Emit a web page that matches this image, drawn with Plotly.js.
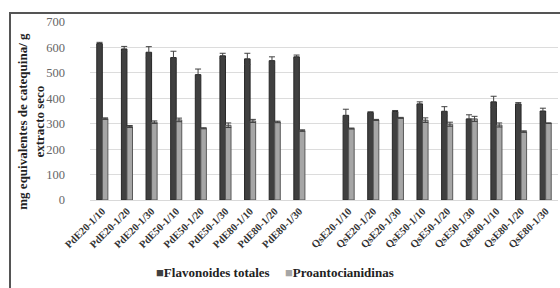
<!DOCTYPE html>
<html><head><meta charset="utf-8">
<script src="https://cdn.plot.ly/plotly-3.0.1.min.js"></script>
<style>
html,body{margin:0;padding:0;background:#fff;overflow:hidden;}
#wrap{position:relative;width:560px;height:288px;overflow:hidden;}
#c{width:560px;height:288px;}
#frame{position:absolute;left:9px;top:12px;width:600px;height:400px;border:2px solid #555;pointer-events:none;box-sizing:border-box;}
</style>
</head><body><div id="wrap"><div id="c"></div><div id="frame"></div></div>
<script>
var categories = ["PdE20-1/10","PdE20-1/20","PdE20-1/30","PdE50-1/10","PdE50-1/20","PdE50-1/30","PdE80-1/10","PdE80-1/20","PdE80-1/30"," ",
  "QsE20-1/10","QsE20-1/20","QsE20-1/30","QsE50-1/10","QsE50-1/20","QsE50-1/30","QsE80-1/10","QsE80-1/20","QsE80-1/30"];
var flavonoides = [615,594,581,560,493,567,555,548,563,null,333,344,348,378,349,319,386,378,350];
var flavErr     = [5,10,22,25,22,10,22,15,7,null,24,3,4,8,18,16,22,5,11];
var proanto     = [320,289,306,315,282,294,311,307,273,null,281,315,323,314,298,319,295,269,302];
var proaErr     = [3,4,5,7,2,9,6,3,3,null,2,2,2,9,8,10,8,3,1];
var seriesNames = ["Flavonoides totales","Proantocianidinas"];
var yTitle = "mg equivalentes de catequina/ g<br>extracto seco";
var yTicks = [0,100,200,300,400,500,600,700];
var fills = ["#404040","#a6a6a6"];
var outlines = ["#262626","#595959"];

var traces = [
  {type:"bar", x:categories, y:flavonoides, name:seriesNames[0], showlegend:false,
   marker:{color:fills[0], line:{color:outlines[0], width:1}},
   error_y:{type:"data", array:flavErr, visible:true, color:"#404040", thickness:1, width:3}},
  {type:"bar", x:categories, y:proanto, name:seriesNames[1], showlegend:false,
   marker:{color:fills[1], line:{color:outlines[1], width:1}},
   error_y:{type:"data", array:proaErr, visible:true, color:"#404040", thickness:1, width:3}}
];
var legFont = {family:"Liberation Serif", size:13, color:"#222", weight:"bold"};
var layout = {
  width:560, height:288,
  margin:{l:90, r:2, t:22, b:88},
  paper_bgcolor:"#fff", plot_bgcolor:"#fff",
  barmode:"group", bargap:0.55, bargroupgap:0,
  showlegend:false,
  xaxis:{type:"category", categoryorder:"array", categoryarray:categories, automargin:false,
    tickangle:-45, tickfont:{family:"Liberation Serif", size:10.5, color:"#333", weight:"bold"},
    showline:true, linecolor:"#d9d9d9", linewidth:1, ticks:"", showgrid:false},
  yaxis:{range:[0,700], tickvals:yTicks, ticktext:yTicks.map(String), automargin:false,
    tickfont:{family:"Liberation Serif", size:12.5, color:"#666"},
    showgrid:true, gridcolor:"#dcdcdc", gridwidth:1, zeroline:false, showline:false, ticks:"",
    ticklabelstandoff:24},
  annotations:[
    {xref:"paper", yref:"paper", x:-0.126, y:0.44, xanchor:"center", yanchor:"middle",
     textangle:-90, showarrow:false, text:yTitle,
     font:{family:"Liberation Serif", size:13, color:"#222", weight:"bold"}},
    {xref:"paper", yref:"paper", x:(154-90)/468, y:-0.41, xanchor:"left", yanchor:"middle",
     showarrow:false, font:legFont,
     text:"<span style='color:"+fills[0]+"'>■</span>"+seriesNames[0]},
    {xref:"paper", yref:"paper", x:(283-90)/468, y:-0.41, xanchor:"left", yanchor:"middle",
     showarrow:false, font:legFont,
     text:"<span style='color:"+fills[1]+"'>■</span>"+seriesNames[1]}
  ]
};
Plotly.newPlot("c", traces, layout, {staticPlot:true, displayModeBar:false});
</script></body></html>
